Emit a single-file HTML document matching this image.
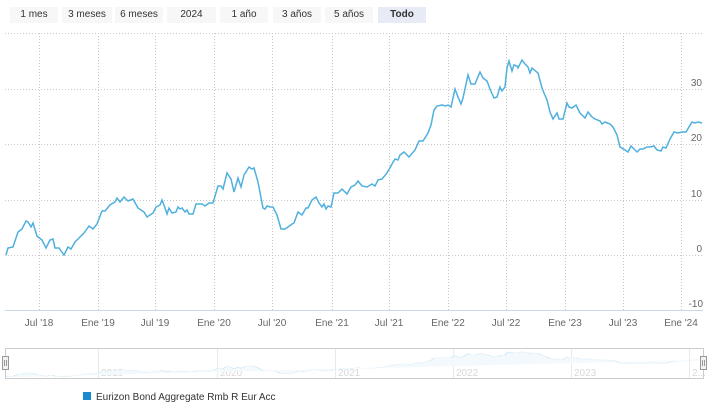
<!DOCTYPE html>
<html><head><meta charset="utf-8"><style>
body{margin:0;background:#fff;width:715px;height:413px;overflow:hidden;font-family:"Liberation Sans",sans-serif;}
.b{position:absolute;top:7px;height:16px;background:#f7f7f7;font-size:10px;color:#333;text-align:center;line-height:16px;}
</style></head><body>
<div class="b" style="left:10px;width:48px">1 mes</div>
<div class="b" style="left:62px;width:50px">3 meses</div>
<div class="b" style="left:115px;width:48px">6 meses</div>
<div class="b" style="left:167px;width:49px">2024</div>
<div class="b" style="left:220px;width:48px">1 año</div>
<div class="b" style="left:273px;width:48px">3 años</div>
<div class="b" style="left:325px;width:48px">5 años</div>
<div class="b" style="left:378px;width:48px;background:#e6ebf5;font-weight:bold">Todo</div>
<svg width="715" height="413" style="position:absolute;left:0;top:0" font-family="Liberation Sans, sans-serif">
<g stroke="#c8c8c8" stroke-dasharray="1,2" stroke-width="1">
<line x1="5" x2="703" y1="33.5" y2="33.5"/><line x1="5" x2="703" y1="89.5" y2="89.5"/><line x1="5" x2="703" y1="144.5" y2="144.5"/><line x1="5" x2="703" y1="200.5" y2="200.5"/><line x1="5" x2="703" y1="255.5" y2="255.5"/>
<line x1="39.5" x2="39.5" y1="33" y2="310"/><line x1="98.5" x2="98.5" y1="33" y2="310"/><line x1="155.5" x2="155.5" y1="33" y2="310"/><line x1="214.5" x2="214.5" y1="33" y2="310"/><line x1="272.5" x2="272.5" y1="33" y2="310"/><line x1="332.5" x2="332.5" y1="33" y2="310"/><line x1="389.5" x2="389.5" y1="33" y2="310"/><line x1="448.5" x2="448.5" y1="33" y2="310"/><line x1="506.5" x2="506.5" y1="33" y2="310"/><line x1="565.5" x2="565.5" y1="33" y2="310"/><line x1="623.5" x2="623.5" y1="33" y2="310"/><line x1="681.5" x2="681.5" y1="33" y2="310"/>
</g>
<line x1="5" x2="703" y1="310.5" y2="310.5" stroke="#ccd6eb"/>
<g font-size="10" fill="#666" text-anchor="end">
<text x="702" y="86">30</text><text x="702" y="141">20</text><text x="702" y="197">10</text><text x="702" y="252">0</text><text x="703" y="307">-10</text>
</g>
<g font-size="10" fill="#666" text-anchor="middle">
<text x="39" y="326">Jul '18</text><text x="98" y="326">Ene '19</text><text x="155" y="326">Jul '19</text><text x="214" y="326">Ene '20</text><text x="272" y="326">Jul '20</text><text x="332" y="326">Ene '21</text><text x="389" y="326">Jul '21</text><text x="448" y="326">Ene '22</text><text x="506" y="326">Jul '22</text><text x="565" y="326">Ene '23</text><text x="623" y="326">Jul '23</text><text x="681" y="326">Ene '24</text>
</g>
<defs><path id="s" d="M6,255 L8,248 13,247 18,232 22,229 26,221 28,222 31,227 33,223 37,236 42,240 46,248 50,240 53,239 55,248 59,248 64,255 68,247 71,249 75,242 80,237 84,233 89,226 93,229 97,224 102,211 105,211 110,205 115,202 117,198 120,202 124,197 128,201 133,199 138,208 144,212 147,217 153,213 156,207 160,205 162,200 165,208 167,214 169,208 172,213 176,212 178,207 180,209 182,208 185,212 187,210 189,214 193,214 196,204 202,204 205,206 209,203 213,203 218,186 221,186 223,189 227,173 231,179 234,192 238,178 241,187 244,175 249,167 252,169 254,168 258,182 263,208 265,209 267,206 270,207 273,207 277,215 281,229 285,229 288,227 292,224 294,223 298,212 302,215 306,208 308,208 312,200 316,197 319,203 322,207 324,204 326,209 328,206 331,207 334,193 338,193 342,189 347,194 351,187 355,185 358,181 362,186 367,187 372,184 375,186 378,180 382,179 387,173 392,164 395,159 398,160 400,155 404,152 409,157 415,150 419,141 423,141 428,133 431,125 434,110 437,106 442,105 446,106 448,105 451,107 455,89 458,97 461,104 463,98 468,75 471,84 475,84 480,72 483,78 487,81 490,89 494,98 497,97 500,87 502,91 505,87 507,68 509,61 512,71 514,65 517,66 518,68 522,60 525,64 528,67 530,73 532,68 538,73 542,88 544,93 547,100 550,112 553,119 557,113 559,119 563,119 567,103 569,107 572,108 576,105 580,113 585,118 588,112 592,117 595,119 600,121 602,124 605,122 610,124 613,127 617,135 620,147 625,150 628,152 631,146 633,148 637,152 640,149 643,149 647,147 650,147 654,146 657,150 661,151 663,147 666,148 670,139 674,132 678,133 682,132 686,132 692,122 695,123 698,122 702,123"/></defs>
<use href="#s" fill="none" stroke="#4fb0de" stroke-width="1.5"/>
<rect x="5.5" y="348.5" width="698" height="30" fill="none" stroke="#cccccc"/>
<g stroke="#eaeaea"><line x1="98.5" x2="98.5" y1="349" y2="378"/><line x1="217.5" x2="217.5" y1="349" y2="378"/><line x1="335.5" x2="335.5" y1="349" y2="378"/><line x1="453.5" x2="453.5" y1="349" y2="378"/><line x1="571.5" x2="571.5" y1="349" y2="378"/><line x1="689.5" x2="689.5" y1="349" y2="378"/></g>
<g font-size="10" fill="#d8d8d8"><text x="101" y="376">2019</text><text x="220" y="376">2020</text><text x="338" y="376">2021</text><text x="456" y="376">2022</text><text x="574" y="376">2023</text><text x="692" y="376">2...</text></g>
<g transform="translate(0,344) scale(1,0.13)"><use href="#s" fill="#f3f9fd" stroke="#c8e6f5" stroke-width="1.5" vector-effect="non-scaling-stroke"/></g>
<rect x="2.5" y="356.5" width="6" height="13" fill="#f2f2f2" stroke="#999"/><line x1="4.5" x2="4.5" y1="360" y2="366" stroke="#999"/><line x1="6.5" x2="6.5" y1="360" y2="366" stroke="#999"/>
<rect x="700.5" y="356.5" width="6" height="13" fill="#f2f2f2" stroke="#999"/><line x1="702.5" x2="702.5" y1="360" y2="366" stroke="#999"/><line x1="704.5" x2="704.5" y1="360" y2="366" stroke="#999"/>
<rect x="83" y="392" width="8" height="8" fill="#1a8ad0"/>
<text x="96" y="400" font-size="10" fill="#333">Eurizon Bond Aggregate Rmb R Eur Acc</text>
</svg>
</body></html>
